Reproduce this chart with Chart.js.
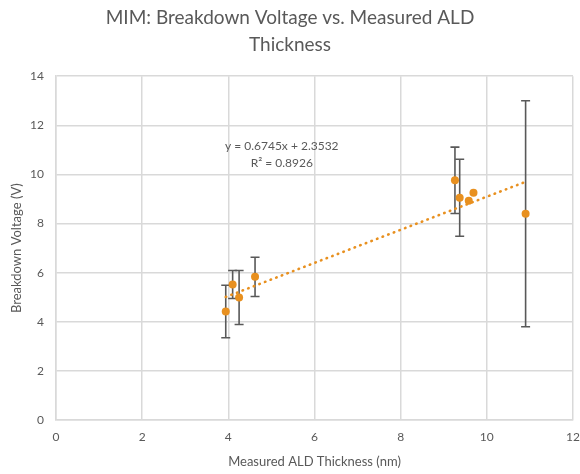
<!DOCTYPE html>
<html>
<head>
<meta charset="utf-8">
<script src="https://cdn.jsdelivr.net/npm/chart.js@4/dist/chart.umd.min.js"></script>
<style>
  html, body { margin: 0; padding: 0; background: #fff; }
  #wrap { width: 580px; height: 474px; }
</style>
</head>
<body>
<div id="wrap"><canvas id="chart" width="580" height="474"></canvas></div>
<script>
// Data
const thickness = [3.94, 4.10, 4.25, 4.62, 9.26, 9.37, 9.58, 9.69, 10.90];
const voltage   = [4.42, 5.52, 4.99, 5.83, 9.76, 9.05, 8.93, 9.25, 8.40];
const voltErr   = [1.07, 0.57, 1.10, 0.80, 1.35, 1.57, 0, 0, 4.60];

// Linear trendline endpoints (y = 0.6745x + 2.3532)
const trendX = [3.94, 10.90];
const trendY = [5.01, 9.70];
const trendLabel = ['y = 0.6745x + 2.3532', 'R\u00B2 = 0.8926'];

const xTicks = [0, 2, 4, 6, 8, 10, 12];
const yTicks = [0, 2, 4, 6, 8, 10, 12, 14];

const GRAY = '#595959';
const GRID = '#d9d9d9';
const ORANGE = '#e8901f';
const FONT = 'Lato, "Open Sans", sans-serif';

// error bars, drawn under the points through the chart's scales
const errorBars = {
  id: 'errorBars',
  beforeDatasetsDraw(chart) {
    const { ctx, scales: { x, y } } = chart;
    ctx.save();
    ctx.strokeStyle = GRAY;
    ctx.lineWidth = 1.6;
    thickness.forEach((t, i) => {
      if (!voltErr[i]) return;
      const px = x.getPixelForValue(t);
      const top = y.getPixelForValue(voltage[i] + voltErr[i]);
      const bot = y.getPixelForValue(voltage[i] - voltErr[i]);
      ctx.beginPath();
      ctx.moveTo(px, top); ctx.lineTo(px, bot);
      ctx.moveTo(px - 4.5, top); ctx.lineTo(px + 4.5, top);
      ctx.moveTo(px - 4.5, bot); ctx.lineTo(px + 4.5, bot);
      ctx.stroke();
    });
    ctx.restore();
  }
};

// trendline equation text
const eqLabel = {
  id: 'eqLabel',
  afterDatasetsDraw(chart) {
    const { ctx, scales: { x, y } } = chart;
    ctx.save();
    ctx.fillStyle = GRAY;
    ctx.font = '12px ' + FONT;
    ctx.textAlign = 'center';
    ctx.textBaseline = 'middle';
    const cx = x.getPixelForValue(5.24);
    ctx.fillText(trendLabel[0], cx, y.getPixelForValue(11.15));
    ctx.fillText(trendLabel[1], cx, y.getPixelForValue(10.46));
    ctx.restore();
  }
};

new Chart(document.getElementById('chart'), {
  type: 'scatter',
  data: {
    datasets: [
      {
        label: 'Trend',
        type: 'line',
        data: trendX.map((v, i) => ({ x: v, y: trendY[i] })),
        borderColor: ORANGE,
        borderWidth: 2.6,
        borderDash: [0.5, 5.5],
        borderCapStyle: 'round',
        pointRadius: 0,
        fill: false,
        order: 2
      },
      {
        label: 'Breakdown Voltage',
        data: thickness.map((v, i) => ({ x: v, y: voltage[i] })),
        backgroundColor: ORANGE,
        borderColor: ORANGE,
        pointRadius: 4,
        pointBorderWidth: 0,
        order: 1
      }
    ]
  },
  options: {
    responsive: false,
    animation: false,
    layout: { padding: { left: 0, right: 0, top: 0, bottom: 0 } },
    plugins: {
      legend: { display: false },
      tooltip: { enabled: false },
      title: {
        display: true,
        text: ['MIM: Breakdown Voltage vs. Measured ALD', 'Thickness'],
        color: GRAY,
        font: { family: FONT, size: 19, weight: 'normal', lineHeight: 1.4 },
        padding: { top: 5, bottom: 18 }
      }
    },
    scales: {
      x: {
        type: 'linear',
        min: 0, max: 12,
        afterBuildTicks: s => { s.ticks = xTicks.map(v => ({ value: v })); },
        afterFit: s => { s.height = 54; s.paddingRight = 7; },
        grid: { color: GRID, lineWidth: 1.5, drawTicks: false },
        border: { color: GRID, width: 1.5 },
        ticks: { color: GRAY, padding: 10, font: { family: FONT, size: 12 } },
        title: {
          display: true,
          text: 'Measured ALD Thickness (nm)',
          color: GRAY,
          font: { family: FONT, size: 13 },
          padding: { top: 8, bottom: 4 }
        }
      },
      y: {
        type: 'linear',
        min: 0, max: 14,
        afterBuildTicks: s => { s.ticks = yTicks.map(v => ({ value: v })); },
        afterFit: s => { s.width = 56; },
        grid: { color: GRID, lineWidth: 1.5, drawTicks: false },
        border: { color: GRID, width: 1.5 },
        ticks: { color: GRAY, padding: 12, font: { family: FONT, size: 12 } },
        title: {
          display: true,
          text: 'Breakdown Voltage (V)',
          color: GRAY,
          font: { family: FONT, size: 13 },
          padding: { top: 9, bottom: 0 }
        }
      }
    }
  },
  plugins: [errorBars, eqLabel]
});
</script>
</body>
</html>
